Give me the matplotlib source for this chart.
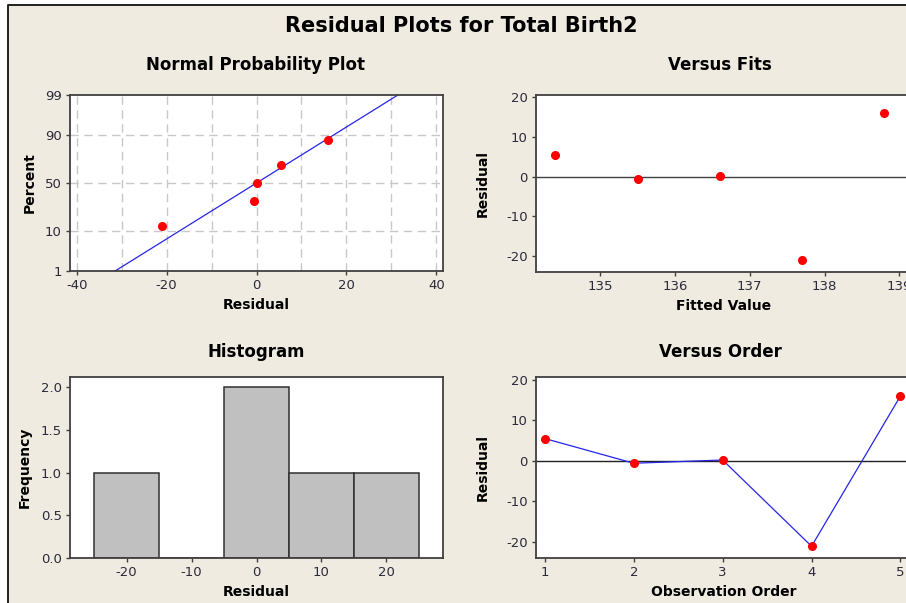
"""
Minitab-style residual plots (4-in-1) for Total Birth2.
"""
from statistics import NormalDist
import numpy as np
import matplotlib
matplotlib.use('Agg')
import matplotlib.pyplot as plt
from matplotlib.patches import Rectangle
from matplotlib.lines import Line2D

# observation order, fitted values, residuals
obs_order = [1, 2, 3, 4, 5]
fitted = [134.4, 135.5, 136.6, 137.7, 138.8]
residuals = [5.5, -0.6, 0.2, -21.1, 16.0]

# histogram bins of the residuals
hist_edges = [-25, -15, -5, 5, 15, 25]

# tick labels
npp_xticks = [-40, -20, 0, 20, 40]
npp_grid_x = [-40, -30, -20, -10, 0, 10, 20, 30, 40]
npp_pct_ticks = [1, 10, 50, 90, 99]
npp_pct_grid = [10, 50, 90]
fit_xticks = [135, 136, 137, 138, 139]
resid_yticks = [-20, -10, 0, 10, 20]
hist_xticks = [-20, -10, 0, 10, 20]
hist_yticks = [0.0, 0.5, 1.0, 1.5, 2.0]

W, H = 906, 603
BG = '#EFEBE0'
SPINE = '#404040'
TICKC = '#2a2a3a'
RED = '#FF0000'
BLUE = '#2525E8'

plt.rcParams['font.family'] = ['DejaVu Sans']
plt.rcParams['axes.unicode_minus'] = False

fig = plt.figure(figsize=(W / 100, H / 100), dpi=100, facecolor='white')

# beige panel with dark frame on top and left
fig.patches.append(Rectangle((8 / W, 0), 1, 1 - 5 / H, transform=fig.transFigure,
                             facecolor=BG, edgecolor='none', zorder=-10))
fig.lines.append(Line2D([8 / W, 8 / W, 1], [0, 1 - 5 / H, 1 - 5 / H],
                        transform=fig.transFigure, color='#202020', lw=1.4))


def px_rect(l, t, r, b):
    return [l / W, 1 - b / H, (r - l) / W, (b - t) / H]


def style(ax):
    ax.set_facecolor('white')
    for s in ax.spines.values():
        s.set_color(SPINE)
        s.set_linewidth(1.3)
    ax.tick_params(direction='out', length=3, width=1, color=SPINE,
                   labelsize=9.5, labelcolor=TICKC, pad=3)


fig.text(461 / W, 1 - 26 / H, 'Residual Plots for Total Birth2', ha='center', va='center',
         fontsize=15, fontweight='bold')

# ---- Normal probability plot
nd = NormalDist()
ax1 = fig.add_axes(px_rect(70, 95, 443, 271))
style(ax1)
n = len(residuals)
sorted_res = np.sort(residuals)
pct = [(i + 1 - 0.3) / (n + 0.4) for i in range(n)]
zs = [nd.inv_cdf(p) for p in pct]
mu = np.mean(residuals)
sd = np.std(residuals, ddof=1)
z_lo, z_hi = nd.inv_cdf(0.01), nd.inv_cdf(0.99)
for gx in npp_grid_x:
    ax1.axvline(gx, color='#C8C8C8', lw=1, ls=(0, (6, 4)), zorder=0)
for gp in npp_pct_grid:
    ax1.axhline(nd.inv_cdf(gp / 100), color='#C8C8C8', lw=1, ls=(0, (6, 4)), zorder=0)
ax1.plot([mu + sd * z_lo, mu + sd * z_hi], [z_lo, z_hi], color=BLUE, lw=0.9, zorder=2)
ax1.plot(sorted_res, zs, 'o', color=RED, ms=5.5, zorder=3)
ax1.set_xlim(-41.5, 41.5)
ax1.set_ylim(z_lo, z_hi)
ax1.set_xticks(npp_xticks)
ax1.set_yticks([nd.inv_cdf(p / 100) for p in npp_pct_ticks])
ax1.set_yticklabels([str(p) for p in npp_pct_ticks])
ax1.set_xlabel('Residual', fontsize=10, fontweight='bold', labelpad=4)
ax1.set_ylabel('Percent', fontsize=10, fontweight='bold', labelpad=6)
fig.text(256 / W, 1 - 65 / H, 'Normal Probability Plot', ha='center', va='center',
         fontsize=12, fontweight='bold')

# ---- Versus fits
ax2 = fig.add_axes(px_rect(536, 95, 912, 272))
style(ax2)
ax2.axhline(0, color=SPINE, lw=1, zorder=1)
ax2.plot(fitted, residuals, 'o', color=RED, ms=5.5, zorder=3)
ax2.set_xlim(134.14, 139.17)
ax2.set_ylim(-24, 20.6)
ax2.set_xticks(fit_xticks)
ax2.set_yticks(resid_yticks)
ax2.set_xlabel('Fitted Value', fontsize=10, fontweight='bold', labelpad=4)
ax2.set_ylabel('Residual', fontsize=10, fontweight='bold', labelpad=12)
fig.text(720 / W, 1 - 65 / H, 'Versus Fits', ha='center', va='center',
         fontsize=12, fontweight='bold')

# ---- Histogram
ax3 = fig.add_axes(px_rect(70, 377, 443, 558))
style(ax3)
ax3.hist(residuals, bins=hist_edges, color='#C0C0C0', edgecolor='#303030', lw=1.1)
ax3.set_xlim(-28.7, 28.7)
ax3.set_ylim(0, 2.12)
ax3.set_xticks(hist_xticks)
ax3.set_yticks(hist_yticks)
ax3.set_yticklabels([f'{v:.1f}' for v in hist_yticks])
ax3.set_xlabel('Residual', fontsize=10, fontweight='bold', labelpad=4)
ax3.set_ylabel('Frequency', fontsize=10, fontweight='bold', labelpad=6)
fig.text(256 / W, 1 - 352 / H, 'Histogram', ha='center', va='center',
         fontsize=12, fontweight='bold')

# ---- Versus order
ax4 = fig.add_axes(px_rect(536, 377, 912, 558))
style(ax4)
ax4.axhline(0, color='#202020', lw=1, zorder=1)
ax4.plot(obs_order, residuals, '-', color=BLUE, lw=0.9, zorder=2)
ax4.plot(obs_order, residuals, 'o', color=RED, ms=5.5, zorder=3)
ax4.set_xlim(0.9, 5.13)
ax4.set_ylim(-24, 20.7)
ax4.set_xticks(obs_order)
ax4.set_yticks(resid_yticks)
ax4.set_xlabel('Observation Order', fontsize=10, fontweight='bold', labelpad=4)
ax4.set_ylabel('Residual', fontsize=10, fontweight='bold', labelpad=12)
fig.text(720 / W, 1 - 352 / H, 'Versus Order', ha='center', va='center',
         fontsize=12, fontweight='bold')

fig.savefig('out.png', dpi=100, facecolor=fig.get_facecolor())
